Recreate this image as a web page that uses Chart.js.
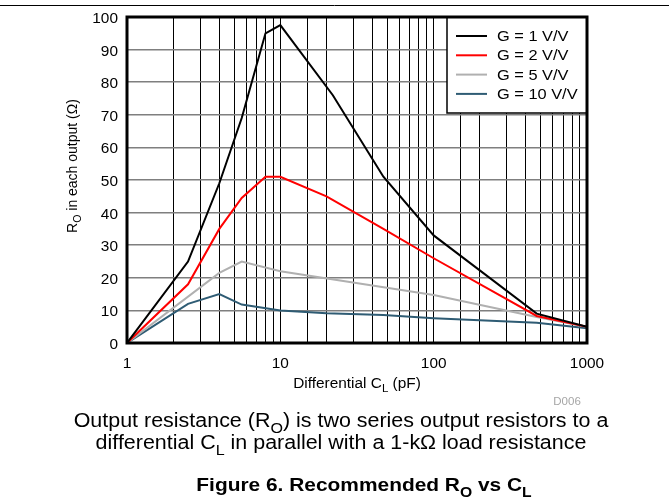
<!DOCTYPE html>
<html>
<head>
<meta charset="utf-8">
<script src="https://cdn.jsdelivr.net/npm/chart.js@4"></script>
<style>
  html, body { margin: 0; padding: 0; background: #fff; }
  #wrap { width: 669px; height: 497px; }
</style>
</head>
<body>
<div id="wrap"><canvas id="roChart" width="669" height="497"></canvas></div>
<script>
// values (C_L in pF, R_O in ohms)
const capG1 = [1, 2.5, 4, 5.6, 8, 10, 22, 47, 100, 470, 1000];
const roG1 = [0, 25, 49, 69, 95, 97.5, 76, 51, 33, 9, 5];
const capG2 = [1, 2.5, 4, 5.6, 8, 10, 20, 47, 100, 470, 1000];
const roG2 = [0, 18, 35, 44.5, 51, 51, 45, 35, 26, 8.3, 5];
const capG5 = [1, 4, 5.6, 10, 100, 470, 1000];
const roG5 = [0, 21.5, 25, 22, 14.7, 8, 5];
const capG10 = [1, 2.5, 4, 5.6, 10, 20, 47, 100, 470, 1000];
const roG10 = [0, 12, 15, 11.8, 10, 9.1, 8.6, 7.6, 6.2, 4.5];
const seriesLabels = ['G = 1 V/V', 'G = 2 V/V', 'G = 5 V/V', 'G = 10 V/V'];
const seriesColors = ['#000000', '#ff0000', '#b0b0b0', '#2f5c74'];
const xTickLabels = [1, 10, 100, 1000];
const yTicks = [0, 10, 20, 30, 40, 50, 60, 70, 80, 90, 100];

const FONT = '"Liberation Sans", Arial, sans-serif';

function pts(xs, ys) {
  return xs.map((x, i) => ({ x: x, y: ys[i] }));
}

// text with subscripts, parts = [[text, isSub], ...], sx = horizontal stretch
function drawRich(ctx, parts, x, y, size, bold, align, sx) {
  sx = sx || 1;
  const f = (s) => (bold ? 'bold ' : '') + s + 'px ' + FONT;
  let w = 0;
  parts.forEach(p => { ctx.font = f(p[1] ? size * 0.75 : size); w += ctx.measureText(p[0]).width; });
  let cx = 0;
  if (align === 'center') cx = -w / 2;
  if (align === 'right') cx = -w;
  ctx.save();
  ctx.translate(x, y);
  ctx.scale(sx, 1);
  ctx.textAlign = 'left';
  ctx.textBaseline = 'alphabetic';
  parts.forEach(p => {
    ctx.font = f(p[1] ? size * 0.75 : size);
    ctx.fillText(p[0], cx, p[1] ? size * 0.3 : 0);
    cx += ctx.measureText(p[0]).width;
  });
  ctx.restore();
}

const decor = {
  id: 'decor',
  afterDraw(chart) {
    const ctx = chart.ctx;
    const a = chart.chartArea;
    const xs = chart.scales.x, ys = chart.scales.y;
    ctx.save();

    // tick labels
    ctx.fillStyle = '#000';
    yTicks.forEach(v => {
      drawRich(ctx, [[String(v), false]], 118, ys.getPixelForValue(v) + 6, 14, false, 'right', 1.1);
    });
    xTickLabels.forEach(v => {
      drawRich(ctx, [[String(v), false]], xs.getPixelForValue(v), 368, 14, false, 'center', 1.1);
    });

    // legend box
    const lx = 447, ly = a.top, lw = a.right - 447, lh = 113 - a.top;
    ctx.fillStyle = '#fff';
    ctx.fillRect(lx, ly, lw, lh);
    ctx.strokeStyle = '#000';
    ctx.lineWidth = 1.5;
    ctx.strokeRect(lx, ly, lw, lh);
    chart.data.datasets.forEach((ds, i) => {
      const yy = 36 + i * 19.3;
      ctx.strokeStyle = ds.borderColor;
      ctx.lineWidth = 2;
      ctx.beginPath();
      ctx.moveTo(456, yy);
      ctx.lineTo(487, yy);
      ctx.stroke();
      ctx.fillStyle = '#000';
      drawRich(ctx, [[ds.label, false]], 497, yy + 5, 14, false, 'left', 1.17);
    });
    // outer frame
    ctx.strokeStyle = '#000';
    ctx.lineWidth = 3;
    ctx.strokeRect(a.left, a.top, a.right - a.left, a.bottom - a.top);

    ctx.fillStyle = '#000';
    // x title
    drawRich(ctx, [['Differential C', false], ['L', true], [' (pF)', false]], (a.left + a.right) / 2, 388, 14, false, 'center', 1.1);
    // y title
    ctx.save();
    ctx.translate(77, 166);
    ctx.rotate(-Math.PI / 2);
    drawRich(ctx, [['R', false], ['O', true], [' in each output (\u03A9)', false]], 0, 0, 14, false, 'center');
    ctx.restore();

    // figure id
    ctx.fillStyle = '#a6a6a6';
    drawRich(ctx, [['D006', false]], 567, 405, 10.5, false, 'center', 1.1);

    // caption
    ctx.fillStyle = '#000';
    drawRich(ctx, [['Output resistance (R', false], ['O', true], [') is two series output resistors to a', false]], 341, 427, 19.5, false, 'center', 1.1);
    drawRich(ctx, [['differential C', false], ['L', true], [' in parallel with a 1-k\u03A9 load resistance', false]], 341, 449, 19.5, false, 'center', 1.1);
    drawRich(ctx, [['Figure 6. Recommended R', false], ['O', true], [' vs C', false], ['L', true]], 364, 491, 19, true, 'center', 1.1);

    // top rule
    ctx.strokeStyle = '#000';
    ctx.lineWidth = 1;
    ctx.beginPath();
    ctx.moveTo(0, 5.5);
    ctx.lineTo(669, 5.5);
    ctx.stroke();
    ctx.restore();
  }
};

const ctx = document.getElementById('roChart');

new Chart(ctx, {
  type: 'line',
  data: {
    datasets: [
      { label: seriesLabels[0], data: pts(capG1, roG1) },
      { label: seriesLabels[1], data: pts(capG2, roG2) },
      { label: seriesLabels[2], data: pts(capG5, roG5) },
      { label: seriesLabels[3], data: pts(capG10, roG10) }
    ].map((d, i) => Object.assign(d, {
      borderColor: seriesColors[i],
      backgroundColor: seriesColors[i],
      borderWidth: 2,
      pointRadius: 0,
      tension: 0,
      fill: false
    }))
  },
  options: {
    responsive: false,
    animation: false,
    layout: { padding: { left: 0, right: 82, top: 17, bottom: 0 } },
    plugins: { legend: { display: false }, tooltip: { enabled: false } },
    scales: {
      x: {
        type: 'logarithmic',
        min: 1,
        max: 1000,
        afterFit: (s) => { s.height = 154; },
        grid: { color: '#000', lineWidth: 1, drawTicks: false },
        border: { display: false },
        ticks: { display: false, autoSkip: false }
      },
      y: {
        min: 0,
        max: 100,
        afterFit: (s) => { s.width = 127; },
        afterBuildTicks: (s) => { s.ticks = yTicks.map(v => ({ value: v })); },
        grid: { color: '#7f7f7f', lineWidth: 1.5, drawTicks: false },
        border: { display: false },
        ticks: { display: false }
      }
    }
  },
  plugins: [decor]
});
</script>
</body>
</html>
